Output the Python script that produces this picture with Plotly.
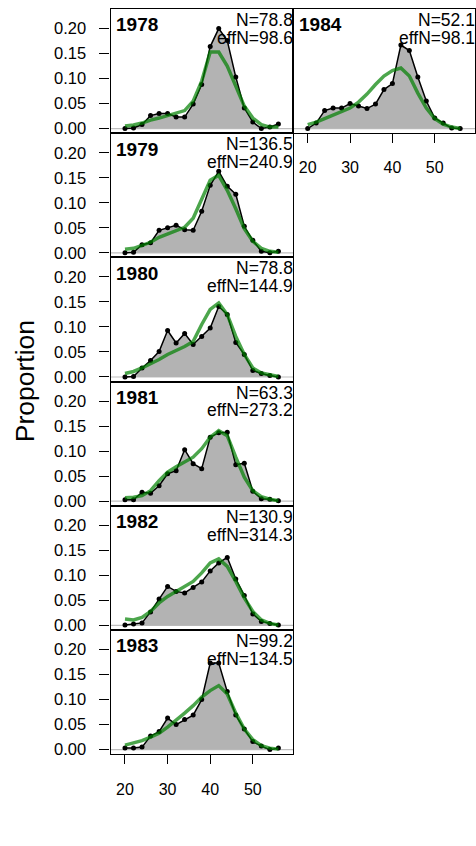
import plotly.graph_objects as go

# ---------------- data ----------------
length_bins = [20, 22, 24, 26, 28, 30, 32, 34, 36, 38, 40, 42, 44, 46, 48, 50, 52, 54, 56]
years = [1978, 1979, 1980, 1981, 1982, 1983, 1984]
n_values = ["78.8", "136.5", "78.8", "63.3", "130.9", "99.2", "52.1"]
effn_values = ["98.6", "240.9", "144.9", "273.2", "314.3", "134.5", "98.1"]

obs_1978 = [0.000, 0.001, 0.008, 0.026, 0.030, 0.030, 0.023, 0.023, 0.049, 0.088, 0.164, 0.200, 0.176, 0.103, 0.041, 0.013, 0.000, 0.003, 0.009]
exp_1978 = [0.005, 0.007, 0.011, 0.017, 0.021, 0.026, 0.031, 0.036, 0.055, 0.095, 0.153, 0.153, 0.125, 0.085, 0.045, 0.021, 0.008, 0.003, 0.003]

obs_1979 = [0.000, 0.001, 0.016, 0.020, 0.045, 0.050, 0.055, 0.046, 0.045, 0.083, 0.135, 0.163, 0.133, 0.117, 0.053, 0.025, 0.003, 0.000, 0.003]
exp_1979 = [0.007, 0.009, 0.015, 0.021, 0.031, 0.038, 0.045, 0.051, 0.069, 0.105, 0.145, 0.155, 0.125, 0.088, 0.048, 0.023, 0.009, 0.003, 0.001]

obs_1980 = [0.000, 0.001, 0.018, 0.033, 0.051, 0.093, 0.068, 0.087, 0.065, 0.081, 0.098, 0.141, 0.125, 0.069, 0.045, 0.013, 0.007, 0.003, 0.000]
exp_1980 = [0.007, 0.011, 0.018, 0.026, 0.035, 0.045, 0.053, 0.061, 0.071, 0.105, 0.135, 0.148, 0.125, 0.081, 0.045, 0.018, 0.008, 0.004, 0.001]

obs_1981 = [0.003, 0.003, 0.018, 0.016, 0.031, 0.055, 0.061, 0.103, 0.075, 0.065, 0.128, 0.137, 0.138, 0.073, 0.076, 0.020, 0.005, 0.004, 0.001]
exp_1981 = [0.007, 0.008, 0.011, 0.021, 0.041, 0.058, 0.069, 0.078, 0.088, 0.105, 0.128, 0.141, 0.131, 0.088, 0.048, 0.021, 0.009, 0.004, 0.001]

obs_1982 = [0.001, 0.003, 0.005, 0.027, 0.053, 0.078, 0.068, 0.065, 0.076, 0.087, 0.109, 0.125, 0.136, 0.093, 0.060, 0.023, 0.008, 0.004, 0.001]
exp_1982 = [0.013, 0.011, 0.016, 0.028, 0.045, 0.058, 0.068, 0.078, 0.088, 0.105, 0.125, 0.133, 0.118, 0.088, 0.055, 0.028, 0.011, 0.004, 0.001]

obs_1983 = [0.003, 0.003, 0.005, 0.027, 0.036, 0.063, 0.050, 0.060, 0.069, 0.100, 0.173, 0.173, 0.116, 0.069, 0.041, 0.016, 0.007, 0.000, 0.003]
exp_1983 = [0.009, 0.013, 0.018, 0.025, 0.033, 0.045, 0.058, 0.073, 0.088, 0.105, 0.118, 0.128, 0.111, 0.073, 0.041, 0.020, 0.008, 0.003, 0.001]

obs_1984 = [0.000, 0.011, 0.036, 0.041, 0.041, 0.050, 0.045, 0.040, 0.049, 0.078, 0.090, 0.167, 0.156, 0.103, 0.055, 0.021, 0.011, 0.001, 0.000]
exp_1984 = [0.008, 0.013, 0.020, 0.027, 0.033, 0.041, 0.053, 0.069, 0.088, 0.105, 0.116, 0.121, 0.105, 0.071, 0.041, 0.020, 0.009, 0.003, 0.000]

y_tick_vals = [0.00, 0.05, 0.10, 0.15, 0.20]
y_tick_text = ["0.00", "0.05", "0.10", "0.15", "0.20"]
x_tick_vals = [20, 30, 40, 50]

observed = [obs_1978, obs_1979, obs_1980, obs_1981, obs_1982, obs_1983, obs_1984]
expected = [exp_1978, exp_1979, exp_1980, exp_1981, exp_1982, exp_1983, exp_1984]

# ---------------- layout geometry (pixels) ----------------
W, H = 476, 846
col_x = [(110.5, 293.3), (293.3, 475.0)]
top0, row_h = 9.0, 124.8
placement = [(0, 0), (1, 0), (2, 0), (3, 0), (4, 0), (5, 0), (0, 1)]  # (row, col)
x_range = [16.6, 59.5]
y_range = [-0.0092, 0.2392]

FONT = "Liberation Sans, Arial, sans-serif"
fig = go.Figure()
layout = dict(
    width=W, height=H, margin=dict(l=0, r=0, t=0, b=0),
    paper_bgcolor="white", plot_bgcolor="white", showlegend=False,
    font=dict(family=FONT, color="black", size=16),
)
annotations = []
shapes = []

for i, yr in enumerate(years):
    r, c = placement[i]
    k = "" if i == 0 else str(i + 1)
    xa, ya = "x" + k, "y" + k
    x0p, x1p = col_x[c]
    ytop = top0 + row_h * r
    ybot = ytop + row_h
    show_x = (yr == 1983) or (yr == 1984)
    show_y = (c == 0)

    layout["xaxis" + k] = dict(
        domain=[x0p / W, x1p / W], anchor=ya, range=x_range,
        showgrid=False, zeroline=False, showline=True, mirror=True,
        linecolor="black", linewidth=1.2,
        tickmode="array", tickvals=x_tick_vals if show_x else [],
        ticks="outside" if show_x else "", ticklen=9, tickwidth=1.2, tickcolor="black",
        showticklabels=show_x, ticklabelstandoff=11,
        tickfont=dict(size=16, family=FONT),
    )
    layout["yaxis" + k] = dict(
        domain=[1 - ybot / H, 1 - ytop / H], anchor=xa, range=y_range,
        showgrid=False, zeroline=False, showline=True, mirror=True,
        linecolor="black", linewidth=1.2,
        tickmode="array", tickvals=y_tick_vals if show_y else [], ticktext=y_tick_text if show_y else [],
        ticks="outside" if show_y else "", ticklen=10, tickwidth=1.2, tickcolor="black",
        showticklabels=show_y, ticklabelstandoff=10,
        tickfont=dict(size=16.5, family=FONT),
    )

    # grey zero line
    shapes.append(dict(type="line", xref=xa + " domain", yref=ya, x0=0, x1=1, y0=0, y1=0,
                       line=dict(color="#bebebe", width=1.2), layer="below"))

    # observed polygon
    fig.add_trace(go.Scatter(x=length_bins, y=observed[i], xaxis=xa, yaxis=ya, mode="none",
                             fill="tozeroy", fillcolor="#b3b3b3", hoverinfo="skip"))
    # observed line + points
    fig.add_trace(go.Scatter(x=length_bins, y=observed[i], xaxis=xa, yaxis=ya, mode="lines+markers",
                             line=dict(color="black", width=1.5),
                             marker=dict(color="black", size=5)))
    # expected line
    fig.add_trace(go.Scatter(x=length_bins, y=expected[i], xaxis=xa, yaxis=ya, mode="lines",
                             line=dict(color="rgba(0,128,0,0.7)", width=3.5)))

    # texts
    annotations.append(dict(xref="paper", yref="paper", x=(x0p + 3.5) / W, y=1 - (ytop + 16) / H,
                            text="<b>%d</b>" % yr, showarrow=False, xanchor="left", yanchor="middle",
                            font=dict(size=19, family=FONT, color="black")))
    annotations.append(dict(xref="paper", yref="paper", x=(x1p + 1.5) / W, y=1 - (ytop + 11) / H,
                            text="N=" + n_values[i], showarrow=False, xanchor="right", yanchor="middle",
                            font=dict(size=17.5, family=FONT, color="black")))
    annotations.append(dict(xref="paper", yref="paper", x=(x1p + 1.5) / W, y=1 - (ytop + 29) / H,
                            text="effN=" + effn_values[i], showarrow=False, xanchor="right", yanchor="middle",
                            font=dict(size=17.5, family=FONT, color="black")))

annotations.append(dict(xref="paper", yref="paper", x=25 / W, y=1 - 383 / H, text="Proportion",
                        showarrow=False, textangle=-90, xanchor="center", yanchor="middle",
                        font=dict(size=26.5, family=FONT, color="black")))

layout["annotations"] = annotations
layout["shapes"] = shapes
fig.update_layout(**layout)
fig.write_html("out.html", config={"displayModeBar": False},
               post_script="document.body.style.margin='0';document.body.style.overflow='hidden';")
